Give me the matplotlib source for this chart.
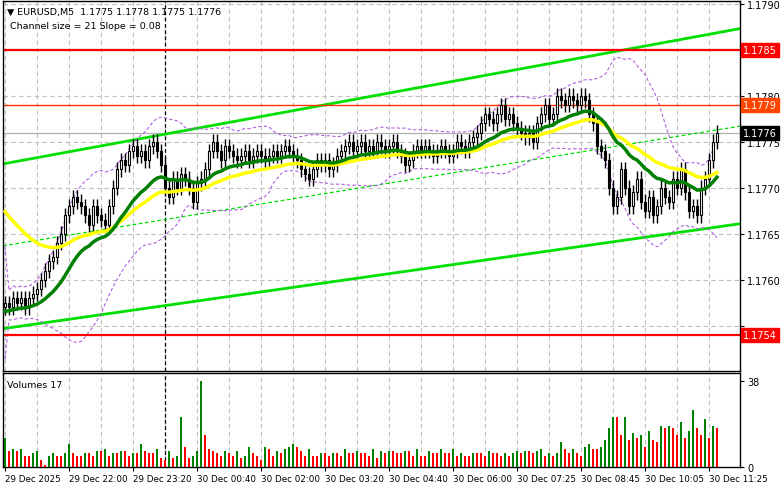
import numpy as np
import pandas as pd
import matplotlib
matplotlib.use("Agg")
import matplotlib.pyplot as plt

base = 1.1750
closes_pips = [7.5,7,8,7.5,8,7,8,8.5,
 9,10,11,12,12.5,
 14,15,17,18,19,18.5,
 18,17,16,18,17,16.5,16,
 18,20,22,23,22.5,
 24,24.5,23.5,24,23,24.5,25,24,22.5,
 20,
 19,21,20,21.5,21,20,18.5,20.5,21,
 22,24,25,24,23,24.5,
 24,23.5,23,23.5,24,23,23.5,24,23.5,23,23.5,24,23.5,24,24.5,24,23.5,23,22,21.5,21,22,23,22.5,23,22,22.5,23.5,24,24.5,
 25,24,24.5,25,24,24.5,24,25,24.5,24,24.5,25,24,23.5,22.5,23,24,24.5,24,
 24.5,24,23.5,24,24.5,24,23.5,24,25,24.5,24,25,25.5,26,
 27,28,27.5,27,28,29,27.5,28,27,26.5,26,
 25.5,26,25,27,28,29,27.5,28,30,29.5,
 29,30,29.5,29,30,29.5,28,
 27,24.5,24,23,
 20,18,19,22,20,18,19.5,21,18.5,
 17.5,19,17,18,20,
 19,18.5,21,20,22,19.5,17.5,18,17,20,
 21,23,25,26]
volumes = [13,7,8,7,8,5,5,6,7,3,1,5,6,5,5,6,10,6,5,5,6,6,5,7,7,8,5,6,6,7,7,5,6,6,10,7,6,6,8,4,3,7,4,5,22,9,4,5,7,38,14,8,7,6,5,7,6,5,7,4,5,9,6,5,3,9,8,5,7,6,8,9,10,9,7,5,8,5,5,6,6,5,6,6,5,8,6,6,7,6,6,5,8,4,7,6,7,7,6,6,7,7,5,8,5,5,7,6,6,8,6,6,8,5,6,5,5,6,6,6,5,7,6,6,5,6,5,6,7,6,7,7,6,7,8,5,6,5,6,11,8,6,8,6,5,9,10,8,8,9,12,17,22,22,14,22,12,15,13,14,9,16,12,11,18,17,18,17,14,20,13,16,25,17,14,21,13,18,17]
volumes = volumes[:179]
time_labels = ["29 Dec 2025","29 Dec 22:00","29 Dec 23:20","30 Dec 00:40","30 Dec 02:00",
 "30 Dec 03:20","30 Dec 04:40","30 Dec 06:00","30 Dec 07:25","30 Dec 08:45","30 Dec 10:05","30 Dec 11:25"]
upper_channel = (1.17726, 1.17873)
lower_channel = (1.17547, 1.17661)
mid_channel = (1.17637, 1.17767)
levels = [1.1785, 1.1779]
last_price = 1.1776
low_level = 1.1754

closes = base + np.array(closes_pips)/10000
n = len(closes)
volumes = (volumes + [8]*n)[:n]
opens = np.concatenate([[closes[0]-0.00005], closes[:-1]])
highs = np.maximum(opens, closes) + 0.00008
lows = np.minimum(opens, closes) - 0.00008
idx = np.arange(n)
s = pd.Series(closes)
green_ma = pd.concat([pd.Series([1.17565]*20), s]).ewm(span=20, adjust=False).mean().values[20:]
yellow_ma = pd.concat([pd.Series([1.1768]*30), s]).ewm(span=36, adjust=False).mean().values[30:]
bb_mid = s.rolling(20, min_periods=1).mean()
bb_std = s.rolling(20, min_periods=2).std().fillna(0.0003)
bb_up = bb_mid + 1.7*bb_std + 0.0001
bb_dn = bb_mid - 1.7*bb_std - 0.0001

W, H = 781, 489
fig = plt.figure(figsize=(W/100, H/100), dpi=100)
fig.patch.set_facecolor("white")
L, R = 3/W, 740/W
ax = fig.add_axes([L, 1-372/H, R-L, 370/H])
axv = fig.add_axes([L, 1-468/H, R-L, 94/H], sharex=ax)
xmax = (740-3)/4 - 0.5
for a in (ax, axv):
    a.set_xlim(-0.5, xmax)
    for sp in a.spines.values():
        sp.set_color("black"); sp.set_linewidth(1)
    a.tick_params(left=False, labelleft=False, right=True, labelright=True, labelsize=7, length=3, direction="out", pad=2)
    for xv in np.arange(0, xmax, 8):
        a.axvline(xv, color="#c0c0c0", lw=0.8, ls=(0,(4,3)), zorder=0)
ax.set_ylim(1.17501, 1.17903)
yt = np.round(np.arange(1.1755, 1.17901, 0.0005), 4)
ax.set_yticks(yt)
ax.set_yticklabels(["" if abs(v-1.1785) < 1e-6 or abs(v-1.1755) < 1e-6 else "%.4f" % v for v in yt])
for v in yt:
    ax.axhline(v, color="#c0c0c0", lw=0.8, ls=(0,(4,3)), zorder=0)
ax.tick_params(bottom=False, labelbottom=False)
ax.axvline(40, color="black", lw=0.9, ls=(0,(3,2)), zorder=1)

ax.plot([-0.5, xmax], upper_channel, color="#00e000", lw=2, zorder=2)
ax.plot([-0.5, xmax], lower_channel, color="#00e000", lw=2, zorder=2)
ax.plot([-0.5, xmax], mid_channel, color="#00e000", lw=0.9, ls=(0,(3,2)), zorder=2)
ax.plot(idx, bb_up, color="#b060e0", lw=0.8, ls=(0,(3,2)), zorder=2)
ax.plot(idx, bb_dn, color="#b060e0", lw=0.8, ls=(0,(3,2)), zorder=2)
ax.axhline(levels[0], color="#ff0000", lw=1.6, zorder=2)
ax.axhline(levels[1], color="#ff3300", lw=1, zorder=2)
ax.axhline(low_level, color="#ff0000", lw=1.6, zorder=2)
ax.axhline(last_price, color="#b0b0b0", lw=0.9, zorder=1)

for i in idx:
    ax.vlines(i, lows[i], highs[i], color="black", lw=1, zorder=3)
    bull = closes[i] >= opens[i]
    b0, b1 = min(opens[i], closes[i]), max(opens[i], closes[i])
    ax.add_patch(plt.Rectangle((i-0.35, b0), 0.7, max(b1-b0, 0.000015),
                 facecolor="white" if bull else "black", edgecolor="black", lw=0.8, zorder=4))
ax.plot(idx, yellow_ma, color="#ffff00", lw=2.5, zorder=5)
ax.plot(idx, green_ma, color="#008000", lw=2.5, zorder=6)

def tag(v, text, bg, fg):
    ax.annotate(text, xy=(1, v), xycoords=("axes fraction", "data"), xytext=(2, 0), textcoords="offset points",
                ha="left", va="center", fontsize=7, color=fg, annotation_clip=False,
                bbox=dict(boxstyle="square,pad=0.2", fc=bg, ec=bg))
tag(1.1785, "1.1785", "#ff0000", "white")
tag(1.1779, "1.1779", "#ff4500", "white")
tag(1.1776, "1.1776", "black", "white")
tag(1.1754, "1.1754", "#ff0000", "white")

ax.text(0.005, 0.985, "\u25bc EURUSD,M5  1.1775 1.1778 1.1775 1.1776", transform=ax.transAxes, fontsize=6.8, va="top")
ax.text(0.01, 0.945, "Channel size = 21 Slope = 0.08", transform=ax.transAxes, fontsize=6.8, va="top")

vcol = ["#008000"] + ["#008000" if volumes[i] > volumes[i-1] else "#ff0000" for i in range(1, n)]
axv.bar(idx, volumes, width=0.6, color=vcol, zorder=3)
axv.set_ylim(0, 41.5)
axv.set_yticks([0, 38])
axv.set_yticklabels(["0", "38"])
axv.axvline(40, color="black", lw=0.9, ls=(0,(3,2)), zorder=1)
axv.text(0.005, 0.93, "Volumes 17", transform=axv.transAxes, fontsize=6.8, va="top")
axv.set_xticks(np.arange(len(time_labels))*16)
axv.set_xticklabels(time_labels, ha="left", fontsize=6.3)
axv.tick_params(bottom=True, labelbottom=True, length=3, pad=2)
fig.savefig("out.png", dpi=100)
